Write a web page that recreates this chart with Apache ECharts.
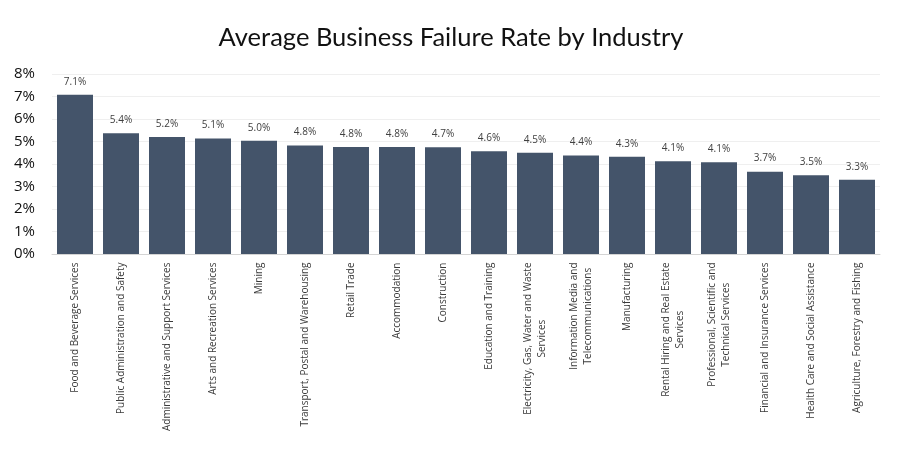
<!DOCTYPE html>
<html><head><meta charset="utf-8">
<script src="https://cdn.jsdelivr.net/npm/echarts@6/dist/echarts.min.js"></script>
<style>html,body{margin:0;padding:0;background:#fff}#c{width:902px;height:452px}</style>
</head><body><div id="c"></div>
<script>
const categories = [
  "Food and Beverage Services",
  "Public Administration and Safety",
  "Administrative and Support Services",
  "Arts and Recreation Services",
  "Mining",
  "Transport, Postal and Warehousing",
  "Retail Trade",
  "Accommodation",
  "Construction",
  "Education and Training",
  "Electricity, Gas, Water and Waste\nServices",
  "Information Media and\nTelecommunications",
  "Manufacturing",
  "Rental Hiring and Real Estate\nServices",
  "Professional, Scientific and\nTechnical Services",
  "Financial and Insurance Services",
  "Health Care and Social Assistance",
  "Agriculture, Forestry and Fishing"
];
const failureRates = [7.08, 5.37, 5.2, 5.13, 5.03, 4.82, 4.76, 4.76, 4.74, 4.57, 4.5, 4.38, 4.32, 4.12, 4.08, 3.66, 3.5, 3.3];
const yTicks = [0, 1, 2, 3, 4, 5, 6, 7, 8];

const catFont = '10px "Open Sans"';
const ctx = document.createElement('canvas').getContext('2d');
ctx.font = catFont;
const rich = {};
const catText = categories.map((c, i) => {
  const lines = c.split('\n');
  const w = Math.max(...lines.map(l => ctx.measureText(l).width)) + 1;
  rich['l' + i] = {width: w, align: 'center', fontFamily: 'Open Sans', fontSize: 10, color: '#3a3a3a', lineHeight: 14};
  return lines.map(l => '{l' + i + '|' + l + '}').join('\n');
});

const chart = echarts.init(document.getElementById('c'), null, {renderer: 'canvas'});
chart.setOption({
  animation: false,
  title: {
    text: 'Average Business Failure Rate by Industry',
    left: 'center', top: 20,
    textStyle: {fontFamily: 'Lato', fontSize: 25.5, fontWeight: 'normal', color: '#111'}
  },
  grid: {left: 52, right: 22, top: 74, bottom: 198, containLabel: false},
  xAxis: {
    type: 'category',
    data: categories.map((c, i) => i),
    axisLine: {lineStyle: {color: '#d4d4d4', width: 1}},
    axisTick: {show: false},
    axisLabel: {
      interval: 0, rotate: 90, margin: 8,
      formatter: (v) => catText[v],
      rich: rich
    }
  },
  yAxis: {
    type: 'value', min: 0, max: yTicks[yTicks.length - 1], interval: 1,
    axisLine: {show: false}, axisTick: {show: false},
    axisLabel: {formatter: v => v + '%', fontFamily: 'Open Sans', fontSize: 15, color: '#111', margin: 17},
    splitLine: {lineStyle: {color: '#efefef', width: 1}}
  },
  series: [{
    type: 'bar',
    data: failureRates,
    barWidth: 36,
    itemStyle: {color: '#44546a'},
    label: {
      show: true, position: 'top', distance: 8,
      formatter: p => p.value.toFixed(1) + '%',
      fontFamily: 'Open Sans', fontSize: 10, color: '#404040'
    }
  }]
});
</script></body></html>
